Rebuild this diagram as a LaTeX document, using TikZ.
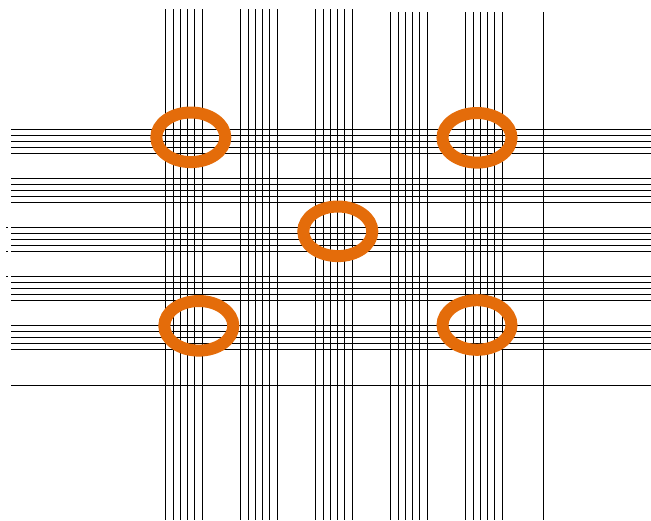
\documentclass[tikz,border=0pt]{standalone}
\definecolor{ringorange}{RGB}{228,108,10}
\begin{document}
\begin{tikzpicture}[x=1pt,y=-1pt,
  gridline/.style={black,line width=1pt},
  ring/.style={draw=ringorange,line width=12pt}]
\useasboundingbox (0,0) rectangle (651,520);
% vertical line groups
\foreach \gx/\top in {165.7/9,240.7/9,315.7/9,390.7/12,465.7/12}{
  \foreach \i in {0,...,5}{
    \draw[gridline] (\gx+\i*7.3,\top) -- (\gx+\i*7.3,520);
  }
}
\draw[gridline] (543,12) -- (543,520);
% horizontal line groups
\foreach \gy in {129.3,178.3,227.3,276,325.3}{
  \foreach \i in {0,...,4}{
    \draw[gridline] (11,\gy+\i*6) -- (651,\gy+\i*6);
  }
}
\draw[gridline] (11,385.3) -- (651,385.3);
% tiny marks at left
\foreach \my in {227.3,251.3,276}{
  \draw[black,line width=0.8pt] (6.3,\my) -- (7.8,\my);
}
% rings
\foreach \cx/\cy in {190.8/137.3,477/137.8,337.8/231.3,198.8/325.8,477/325}{
  \draw[ring] (\cx,\cy) ellipse [x radius=34.5, y radius=24.8];
}
\end{tikzpicture}
\end{document}
